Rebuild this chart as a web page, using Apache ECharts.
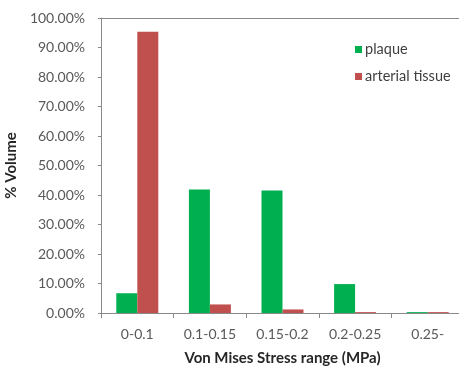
<!DOCTYPE html>
<html><head><meta charset="utf-8">
<script src="https://cdn.jsdelivr.net/npm/echarts@6/dist/echarts.min.js"></script>
<style>html,body{margin:0;padding:0;background:#fff}#c{width:459px;height:366px}</style>
</head><body><div id="c"></div>
<script>
const categories = ['0-0.1', '0.1-0.15', '0.15-0.2', '0.2-0.25', '0.25-'];
const plaque = [6.7, 41.9, 41.5, 9.8, 0.3];
const arterialTissue = [95.3, 2.9, 1.2, 0.3, 0.3];
const seriesNames = ['plaque', 'arterial tissue'];

const chart = echarts.init(document.getElementById('c'));
const font = 'Lato, sans-serif';
chart.setOption({
  animation: false,
  grid: { left: 101, top: 18, width: 363, height: 295, outerBoundsMode: 'none', containLabel: false },
  legend: {
    orient: 'vertical', left: 350, top: 37,
    itemWidth: 7, itemHeight: 7, itemGap: 12,
    icon: 'rect',
    textStyle: { fontFamily: font, fontSize: 14.5, color: '#404040', padding: [0, 0, 0, -2] },
    data: seriesNames
  },
  xAxis: [{
    type: 'category', data: categories,
    axisLine: { lineStyle: { color: '#898989' } },
    axisTick: { show: true, length: 5, lineStyle: { color: '#898989' } },
    axisLabel: { fontFamily: font, fontSize: 14, color: '#595959', margin: 14, interval: 0 },
    name: 'Von Mises Stress range (MPa)', nameLocation: 'middle', nameGap: 38,
    nameTextStyle: { fontFamily: font, fontSize: 15, fontWeight: 'bold', color: '#262626' }
  }, {
    type: 'category', data: categories, position: 'top',
    axisLine: { show: true, lineStyle: { color: '#898989' } },
    axisTick: { show: false }, axisLabel: { show: false }
  }],
  yAxis: {
    type: 'value', min: 0, max: 100, interval: 10,
    axisLine: { show: true, lineStyle: { color: '#898989' } },
    axisTick: { show: true, length: 3, lineStyle: { color: '#898989' } },
    splitLine: { show: false },
    axisLabel: { fontFamily: font, fontSize: 14, color: '#595959', margin: 16,
      formatter: v => v.toFixed(2) + '%' },
    name: '% Volume', nameLocation: 'middle', nameGap: 80, nameRotate: 90,
    nameTextStyle: { fontFamily: font, fontSize: 15, fontWeight: 'bold', color: '#262626' }
  },
  series: [
    { name: seriesNames[0], type: 'bar', data: plaque, barWidth: 21, barGap: '0%',
      itemStyle: { color: '#00B050' } },
    { name: seriesNames[1], type: 'bar', data: arterialTissue, barWidth: 21, barGap: '0%',
      itemStyle: { color: '#C0504D' } }
  ]
});
</script></body></html>
